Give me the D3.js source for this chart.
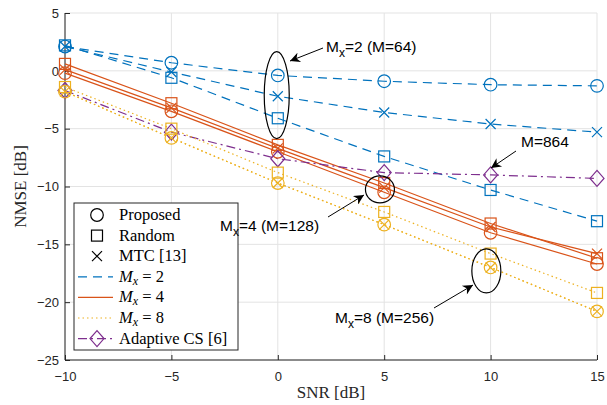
<!DOCTYPE html>
<html>
<head>
<meta charset="utf-8">
<script src="https://cdn.jsdelivr.net/npm/d3@7"></script>
<style>
  html, body { margin: 0; padding: 0; background: #fff; }
  svg { display: block; }
  .tick text { font-family: "Liberation Sans", Arial, sans-serif; font-size: 13px; fill: #262626; }
</style>
</head>
<body>
<div id="chart"></div>
<script>
// ---------- data ----------
const snr = [-10, -5, 0, 5, 10, 15];
const xTicks = [-10, -5, 0, 5, 10, 15];
const yTicks = [5, 0, -5, -10, -15, -20, -25];

const prop2 = [2.1, 0.7, -0.4, -0.9, -1.2, -1.3];
const rand2 = [2.2, -0.6, -4.1, -7.4, -10.3, -13.0];
const mtc2  = [2.1, -0.1, -2.2, -3.6, -4.6, -5.3];

const prop4 = [-0.2, -3.5, -7.0, -10.5, -14.0, -16.7];
const rand4 = [0.6, -2.8, -6.4, -9.7, -13.2, -16.2];
const mtc4  = [0.1, -3.2, -6.7, -10.1, -13.5, -15.8];

const prop8 = [-1.8, -5.8, -9.7, -13.3, -17.0, -20.8];
const rand8 = [-1.4, -5.0, -8.8, -12.2, -15.8, -19.2];
const mtc8  = [-1.8, -5.8, -9.7, -13.3, -17.0, -20.8];

const adaptiveCS = [-1.7, -5.3, -7.6, -8.8, -9.0, -9.3];

const BLUE = '#0072BD', ORANGE = '#D95319', YELLOW = '#EDB120', PURPLE = '#7E2F8E';
const SERIF = '"Liberation Serif", "DejaVu Serif", serif';

// ---------- layout ----------
const W = 607, H = 405;
const m = { left: 65, right: 10, top: 13, bottom: 45 };

const svg = d3.select('#chart').append('svg')
  .attr('width', W).attr('height', H);

const x = d3.scaleLinear().domain([-10, 15]).range([m.left, W - m.right]);
const y = d3.scaleLinear().domain([-25, 5]).range([H - m.bottom, m.top]);

// grid
const grid = svg.append('g').attr('stroke', '#e3e3e3').attr('stroke-width', 1);
grid.selectAll('line.gx').data(xTicks).enter().append('line')
  .attr('x1', d => x(d)).attr('x2', d => x(d))
  .attr('y1', y(-25)).attr('y2', y(5));
grid.selectAll('line.gy').data(yTicks).enter().append('line')
  .attr('x1', x(-10)).attr('x2', x(15))
  .attr('y1', d => y(d)).attr('y2', d => y(d));

// axes (ticks point inward, like the original)
const xAxis = svg.append('g')
  .attr('transform', `translate(0,${y(-25)})`)
  .call(d3.axisBottom(x).tickValues(xTicks).tickSize(-5).tickPadding(12).tickFormat(d3.format('d')));
const yAxis = svg.append('g')
  .attr('transform', `translate(${x(-10)},0)`)
  .call(d3.axisLeft(y).tickValues(yTicks).tickSize(-5).tickPadding(6).tickFormat(d3.format('d')));
[xAxis, yAxis].forEach(a => {
  a.select('.domain').remove();
  a.selectAll('.tick line').attr('stroke', '#262626');
});
xAxis.append('line').attr('x1', x(-10)).attr('x2', x(15)).attr('stroke', '#262626');
yAxis.append('line').attr('y1', y(-25)).attr('y2', y(5)).attr('stroke', '#262626');

svg.append('text')
  .attr('x', x(2.5)).attr('y', 398)
  .attr('text-anchor', 'middle')
  .style('font-family', SERIF).style('font-size', '17px')
  .attr('fill', '#262626')
  .text('SNR [dB]');
svg.append('text')
  .attr('transform', `translate(26,${y(-10)}) rotate(-90)`)
  .attr('text-anchor', 'middle')
  .style('font-family', SERIF).style('font-size', '17px')
  .attr('fill', '#262626')
  .text('NMSE [dB]');

// ---------- series ----------
const line = d3.line().x((d, i) => x(snr[i])).y(d => y(d));
const series = [
  { v: rand2, c: BLUE, dash: '9,6', mk: 'square' },
  { v: mtc2, c: BLUE, dash: '9,6', mk: 'cross' },
  { v: prop2, c: BLUE, dash: '9,6', mk: 'circle' },
  { v: rand4, c: ORANGE, dash: null, mk: 'square' },
  { v: mtc4, c: ORANGE, dash: null, mk: 'cross' },
  { v: prop4, c: ORANGE, dash: null, mk: 'circle' },
  { v: adaptiveCS, c: PURPLE, dash: '9,4,2,4', mk: 'diamond' },
  { v: rand8, c: YELLOW, dash: '1.5,3', mk: 'square' },
  { v: mtc8, c: YELLOW, dash: '1.5,3', mk: 'cross' },
  { v: prop8, c: YELLOW, dash: '1.5,3', mk: 'circle' }
];

const plot = svg.append('g');
series.forEach(s => {
  plot.append('path')
    .attr('d', line(s.v))
    .attr('fill', 'none')
    .attr('stroke', s.c)
    .attr('stroke-width', 1.2)
    .attr('stroke-dasharray', s.dash);
});

function marker(g, type, cx, cy, color) {
  if (type === 'circle') {
    g.append('circle').attr('cx', cx).attr('cy', cy).attr('r', 6.3)
      .attr('fill', 'none').attr('stroke', color).attr('stroke-width', 1.2);
  } else if (type === 'square') {
    g.append('rect').attr('x', cx - 5.5).attr('y', cy - 5.5).attr('width', 11).attr('height', 11)
      .attr('fill', 'none').attr('stroke', color).attr('stroke-width', 1.2);
  } else if (type === 'cross') {
    g.append('path').attr('d', `M${cx-5},${cy-5}L${cx+5},${cy+5}M${cx-5},${cy+5}L${cx+5},${cy-5}`)
      .attr('stroke', color).attr('stroke-width', 1.2);
  } else if (type === 'diamond') {
    g.append('path').attr('d', `M${cx},${cy-8}L${cx+7},${cy}L${cx},${cy+8}L${cx-7},${cy}Z`)
      .attr('fill', 'none').attr('stroke', color).attr('stroke-width', 1.2);
  }
}
series.forEach(s => {
  s.v.forEach((d, i) => marker(plot, s.mk, x(snr[i]), y(d), s.c));
});

// ---------- legend ----------
const lg = svg.append('g').attr('transform', 'translate(74,203)');
lg.append('rect').attr('width', 164).attr('height', 147)
  .attr('fill', '#fff').attr('stroke', '#262626').attr('stroke-width', 1);

const legendRows = [
  { mk: 'circle', c: '#000', dash: undefined, label: ['Proposed'] },
  { mk: 'square', c: '#000', dash: undefined, label: ['Random'] },
  { mk: 'cross', c: '#000', dash: undefined, label: ['MTC [13]'] },
  { mk: null, c: BLUE, dash: '9,6', label: ['M', 'x', ' = 2'] },
  { mk: null, c: ORANGE, dash: null, label: ['M', 'x', ' = 4'] },
  { mk: null, c: YELLOW, dash: '1.5,3', label: ['M', 'x', ' = 8'] },
  { mk: 'diamond', c: PURPLE, dash: '9,4,2,4', label: ['Adaptive CS [6]'] }
];
legendRows.forEach((r, i) => {
  const ry = 12 + i * 20.6;
  if (r.dash !== undefined) {
    lg.append('line').attr('x1', 4).attr('x2', 39).attr('y1', ry).attr('y2', ry)
      .attr('stroke', r.c).attr('stroke-width', 1.2).attr('stroke-dasharray', r.dash);
  }
  if (r.mk) marker(lg, r.mk, 23, ry, r.c);
  const t = lg.append('text').attr('x', 45).attr('y', ry + 5)
    .style('font-family', SERIF).style('font-size', '16.5px')
    .attr('fill', '#000');
  if (r.label.length === 1) {
    t.text(r.label[0]);
  } else {
    t.append('tspan').style('font-style', 'italic').text(r.label[0]);
    t.append('tspan').attr('dy', 3).style('font-style', 'italic').style('font-size', '12px').text(r.label[1]);
    t.append('tspan').attr('dy', -3).text(r.label[2]);
  }
});

// ---------- annotations (on top of everything) ----------
svg.append('defs').append('marker')
  .attr('id', 'arr').attr('viewBox', '0 0 10 10').attr('refX', 10).attr('refY', 5)
  .attr('markerWidth', 12).attr('markerHeight', 10).attr('markerUnits', 'userSpaceOnUse')
  .attr('orient', 'auto')
  .append('path').attr('d', 'M0,0L10,5L0,10L3,5Z').attr('fill', '#000');

const ann = svg.append('g');
function ellipse(cxv, cyv, rx, ry) {
  ann.append('ellipse').attr('cx', x(cxv)).attr('cy', y(cyv)).attr('rx', rx).attr('ry', ry)
    .attr('fill', 'none').attr('stroke', '#000').attr('stroke-width', 1.2);
}
function arrow(x1, y1, x2, y2) {
  ann.append('line').attr('x1', x1).attr('y1', y1).attr('x2', x2).attr('y2', y2)
    .attr('stroke', '#000').attr('stroke-width', 1).attr('marker-end', 'url(#arr)');
}
function label(tx, ty, main, sub, rest) {
  const t = ann.append('text').attr('x', tx).attr('y', ty)
    .style('font-family', '"Liberation Sans", Arial, sans-serif').style('font-size', '15.5px').attr('fill', '#000');
  t.append('tspan').text(main);
  if (sub) {
    t.append('tspan').attr('dy', 5).style('font-size', '12px').text(sub);
    t.append('tspan').attr('dy', -5).text(rest);
  }
}

ellipse(-0.05, -2.1, 12.5, 43.5);
arrow(323, 48, 290, 61);
label(326, 52, 'M', 'x', '=2 (M=64)');

ellipse(4.8, -10.25, 14.5, 13.5);
arrow(328, 217, 364, 195);
label(220, 231, 'M', 'x', '=4 (M=128)');

ellipse(9.8, -17.3, 14.5, 22);
arrow(434, 308, 473, 285);
label(335, 323, 'M', 'x', '=8 (M=256)');

arrow(516, 151, 491, 168);
label(521, 147, 'M=864');
</script>
</body>
</html>
